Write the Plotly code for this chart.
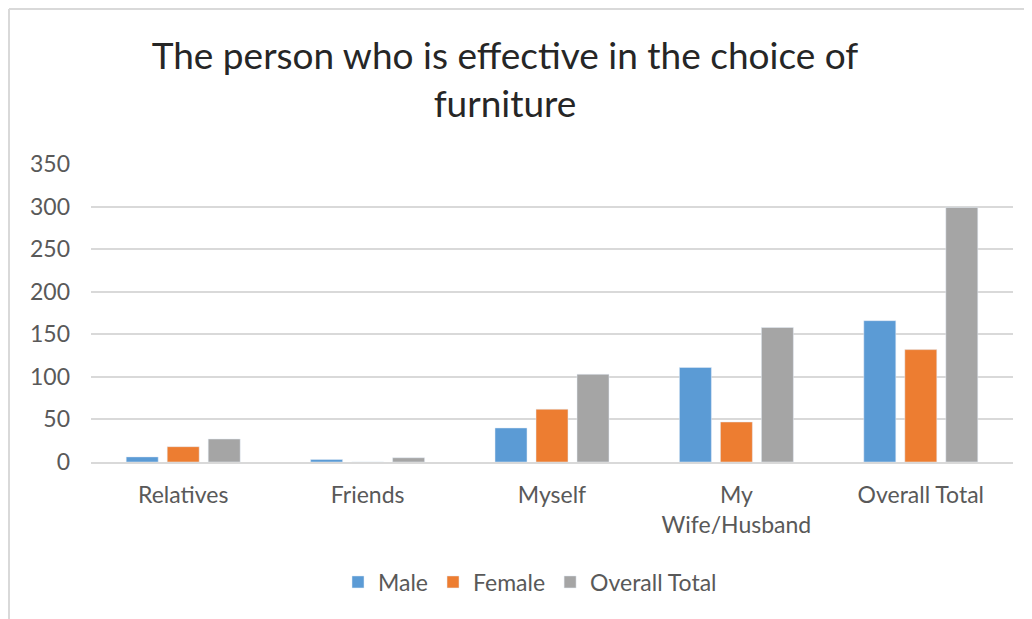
import plotly.graph_objects as go

categories = ["Relatives", "Friends", "Myself", "My<br>Wife/Husband", "Overall Total"]
male = [6, 3, 40, 111, 166]
female = [18, 0, 62, 47, 132]
overall_total = [27, 5, 103, 158, 299]
y_ticks = [0, 50, 100, 150, 200, 250, 300, 350]

FONT = "Lato"
OFF = 8  # page offset of the figure in the browser

fig = go.Figure()
fig.add_trace(go.Bar(name="Male", x=categories, y=male, marker_color="#5B9BD5"))
fig.add_trace(go.Bar(name="Female", x=categories, y=female, marker_color="#ED7D31"))
fig.add_trace(go.Bar(name="Overall Total", x=categories, y=overall_total, marker_color="#A5A5A5"))

W, H = 1032 - OFF, 619 - OFF
L = 91 - OFF
T = 164 - OFF
R = W - (1013 - OFF)
B = H - (462 - OFF)
pw, ph = W - L - R, H - T - B

def px(x):
    return (x - OFF - L) / pw

def py(y):
    return (H - B - (y - OFF)) / ph

fig.update_layout(
    width=W, height=H,
    margin=dict(l=L, r=R, t=T, b=B),
    paper_bgcolor="white", plot_bgcolor="white",
    barmode="group", bargap=0.333, bargroupgap=0.22,
    font=dict(family=FONT, color="#595959", size=23),
    title=dict(text="The person who is effective in the choice of<br>furniture",
               x=(505 - OFF) / W, xanchor="center", y=1 - (69 - OFF) / H, yanchor="middle",
               font=dict(family=FONT, size=37, color="#262626")),
    xaxis=dict(showline=True, linecolor="#D9D9D9", linewidth=1.5, ticks="",
               tickfont=dict(size=23, color="#595959"), ticklabelstandoff=12),
    yaxis=dict(range=[0, 350], tickvals=y_ticks, showgrid=True, gridcolor="#D9D9D9",
               gridwidth=1.5, zeroline=False, ticks="", ticklabelstandoff=20,
               tickfont=dict(size=23, color="#595959")),
    legend=dict(orientation="h", x=px(530), xanchor="center", y=py(582), yanchor="middle",
                font=dict(size=23, color="#595959"), itemwidth=30, traceorder="normal"),
    showlegend=True,
)
fig.add_shape(type="line", xref="paper", yref="paper", x0=px(9), x1=px(W + 40), y0=py(9), y1=py(9),
              line=dict(color="#D9D9D9", width=2))
fig.add_shape(type="line", xref="paper", yref="paper", x0=px(9), x1=px(9), y0=py(9), y1=py(H + 40),
              line=dict(color="#D9D9D9", width=2))

fig.write_html("out.html")
